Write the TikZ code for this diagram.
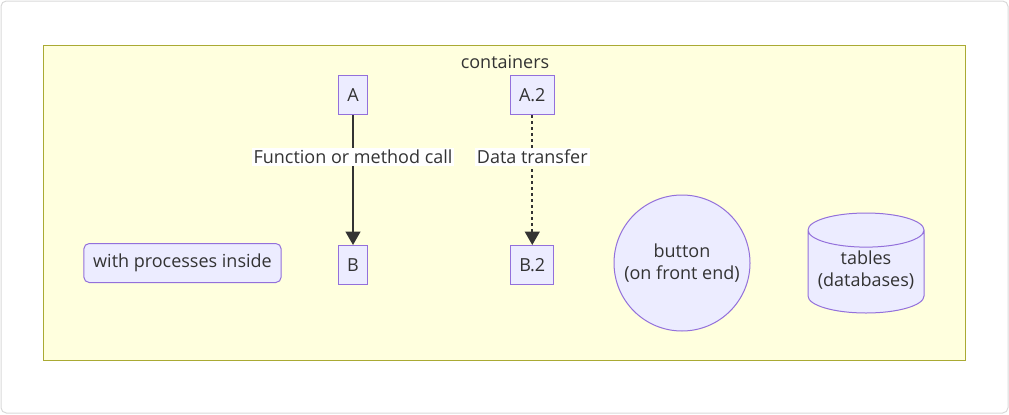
\documentclass[tikz,border=0pt]{standalone}
\usepackage{fontspec}
\setmainfont{Open Sans}
\usepackage{xcolor}
\usepackage{tikz}
\usetikzlibrary{positioning,shapes.geometric,arrows.meta}

\definecolor{procfill}{HTML}{ECECFF}
\definecolor{procline}{HTML}{9370DB}
\definecolor{groupfill}{HTML}{FFFFDE}
\definecolor{groupline}{HTML}{AAAA33}
\definecolor{edgeline}{HTML}{333333}

\begin{document}
\begin{tikzpicture}[x=0.75pt, y=-0.75pt, >={Triangle[length=10pt,width=11pt]},
  font=\fontsize{13.5pt}{16.5pt}\selectfont, text=edgeline,
  proc/.style={draw=procline, fill=procfill, line width=0.75pt, minimum height=29.25pt, inner xsep=6.5pt},
  lbl/.style={fill=white, inner sep=1.5pt},
  flow/.style={draw=edgeline, line width=1.5pt}]
\useasboundingbox (0,0) rectangle (1009,414);
\draw[black!15, line width=0.75pt, rounded corners=4pt] (1,1) rectangle (1008,413);

\node[draw=groupline, fill=groupfill, line width=0.75pt, minimum width=691.5pt, minimum height=236.25pt] (cont) at (504,202.5) {};
\node (title) at (505,62) {containers};

\node[proc] (A) at (353,95) {A};
\node[proc, below=97.5pt of A] (B) {B};
\node[proc, right=106.5pt of A] (A2) {A.2};
\node[proc, below=97.5pt of A2] (B2) {B.2};

\node[proc, rounded corners=4pt, inner xsep=7pt] (inside) at (182.5,263) {with processes inside};
\node[proc, circle, inner sep=1pt, minimum size=102pt, align=center] (button) at (682,263) {button\\(on front end)};
\node[proc, cylinder, shape border rotate=90, aspect=0.3, minimum width=87pt, minimum height=75pt, inner ysep=1pt, align=center, text depth=12pt, anchor=shape center] (tables) at (866,263) {tables\\(databases)};

\draw[flow, ->] (A) -- node[lbl, pos=0.32] {Function or method call} (B);
\draw[flow, ->, dash pattern=on 2.25pt off 2.25pt] (A2) -- node[lbl, pos=0.32] {Data transfer} (B2);

\end{tikzpicture}
\end{document}
